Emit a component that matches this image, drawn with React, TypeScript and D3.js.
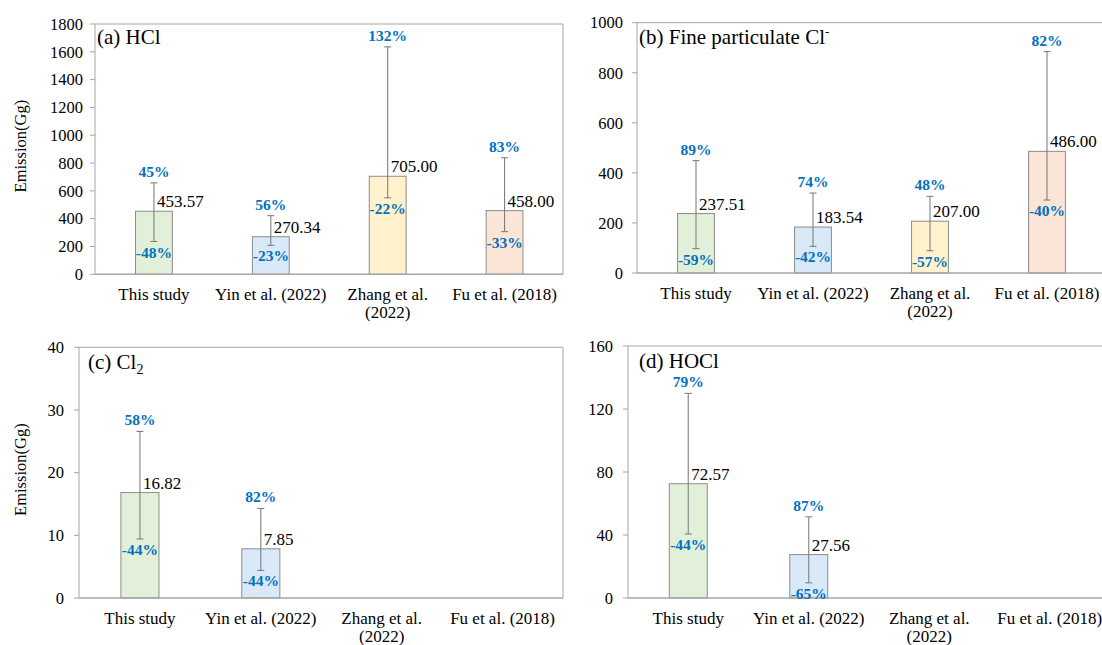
import React from "react";
import * as d3 from "d3";

const categories = ["This study", "Yin et al. (2022)", "Zhang et al.|(2022)", "Fu et al. (2018)"];

const hclValues = [453.57, 270.34, 705.0, 458.0];
const hclUp = [45, 56, 132, 83];
const hclDown = [-48, -23, -22, -33];

const clValues = [237.51, 183.54, 207.0, 486.0];
const clUp = [89, 74, 48, 82];
const clDown = [-59, -42, -57, -40];

const cl2Values = [16.82, 7.85, null, null];
const cl2Up = [58, 82, null, null];
const cl2Down = [-44, -44, null, null];

const hoclValues = [72.57, 27.56, null, null];
const hoclUp = [79, 87, null, null];
const hoclDown = [-44, -65, null, null];

const hclTicks = [0, 200, 400, 600, 800, 1000, 1200, 1400, 1600, 1800];
const clTicks = [0, 200, 400, 600, 800, 1000];
const cl2Ticks = [0, 10, 20, 30, 40];
const hoclTicks = [0, 40, 80, 120, 160];

const barFills = ["#E2F0D9", "#DAE9F7", "#FFF2CC", "#FBE5D6"];

type Panel = {
  key: string;
  values: (number | null)[];
  up: (number | null)[];
  down: (number | null)[];
  ticks: number[];
  axisX: number;
  bandL: number;
  bandR: number;
  frameR: number | null;
  yTop: number;
  yBot: number;
  tickGap: number;
  title: React.ReactNode;
  titleX: number;
  titleY: number;
  yTitle: boolean;
};

const FONT = "'Liberation Serif', 'Times New Roman', 'DejaVu Serif', serif";
const BLUE = "#0070C0";
const FRAME = "#A6A6A6";
const ERR = "#808080";

const panels: Panel[] = [
  {
    key: "a", values: hclValues, up: hclUp, down: hclDown, ticks: hclTicks,
    axisX: 95, bandL: 95.5, bandR: 563, frameR: 563, yTop: 24, yBot: 274.3, tickGap: 12,
    title: <tspan>(a) HCl</tspan>, titleX: 97, titleY: 44, yTitle: true,
  },
  {
    key: "b", values: clValues, up: clUp, down: clDown, ticks: clTicks,
    axisX: 637, bandL: 637.5, bandR: 1105.5, frameR: null, yTop: 22.7, yBot: 273, tickGap: 14,
    title: (
      <>
        <tspan>(b) Fine particulate Cl</tspan>
        <tspan dy={-8} fontSize={13}>-</tspan>
      </>
    ),
    titleX: 639, titleY: 44, yTitle: false,
  },
  {
    key: "c", values: cl2Values, up: cl2Up, down: cl2Down, ticks: cl2Ticks,
    axisX: 79, bandL: 79.5, bandR: 563, frameR: 563, yTop: 347.3, yBot: 598, tickGap: 15,
    title: (
      <>
        <tspan>(c) Cl</tspan>
        <tspan dy={5} fontSize={14}>2</tspan>
      </>
    ),
    titleX: 88, titleY: 369, yTitle: true,
  },
  {
    key: "d", values: hoclValues, up: hoclUp, down: hoclDown, ticks: hoclTicks,
    axisX: 628, bandL: 628, bandR: 1110, frameR: null, yTop: 346, yBot: 598, tickGap: 15,
    title: <tspan>(d) HOCl</tspan>, titleX: 639, titleY: 368, yTitle: false,
  },
];

function PanelView({ p }: { p: Panel }) {
  const x = d3.scaleBand<string>().domain(categories).range([p.bandL, p.bandR]).paddingInner(0).paddingOuter(0);
  const y = d3.scaleLinear().domain([p.ticks[0], p.ticks[p.ticks.length - 1]]).range([p.yBot, p.yTop]);
  const step = x.step();
  const barW = step * 0.315;
  const rightEdge = p.frameR ?? 1102;
  return (
    <g>
      <line x1={p.axisX} x2={rightEdge} y1={p.yTop} y2={p.yTop} stroke={FRAME} strokeWidth={1} />
      {p.frameR !== null && (
        <line x1={p.frameR} x2={p.frameR} y1={p.yTop} y2={p.yBot} stroke={FRAME} strokeWidth={1} />
      )}
      <line x1={p.axisX} x2={p.axisX} y1={p.yTop} y2={p.yBot} stroke={FRAME} strokeWidth={1} />
      {p.ticks.map((t) => (
        <g key={t}>
          <line x1={p.axisX - 5} x2={p.axisX} y1={y(t)} y2={y(t)} stroke={FRAME} strokeWidth={1} />
          <text x={p.axisX - p.tickGap} y={y(t)} dy="0.35em" textAnchor="end" fontSize={16.5} fontFamily={FONT} fill="#000">
            {t}
          </text>
        </g>
      ))}
      {categories.map((c, i) => {
        const v = p.values[i];
        if (v === null) return null;
        const cx = (x(c) as number) + step / 2;
        return (
          <rect key={c} x={cx - barW / 2} y={y(v)} width={barW} height={p.yBot - y(v)} fill={barFills[i]} stroke="#8C8C8C" strokeWidth={1} />
        );
      })}
      <line x1={p.axisX} x2={rightEdge} y1={p.yBot} y2={p.yBot} stroke={FRAME} strokeWidth={1.5} />
      {categories.map((c, i) => {
        const v = p.values[i];
        const u = p.up[i];
        const dn = p.down[i];
        if (v === null || u === null || dn === null) return null;
        const cx = (x(c) as number) + step / 2;
        const hi = v * (1 + u / 100);
        const lo = v * (1 + dn / 100);
        return (
          <g key={c}>
            <line x1={cx} x2={cx} y1={y(hi)} y2={y(lo)} stroke={ERR} strokeWidth={1.1} />
            <line x1={cx - 3.5} x2={cx + 3.5} y1={y(hi)} y2={y(hi)} stroke={ERR} strokeWidth={1.1} />
            <line x1={cx - 3.5} x2={cx + 3.5} y1={y(lo)} y2={y(lo)} stroke={ERR} strokeWidth={1.1} />
            <text x={cx + 3} y={y(v) - 4} fontSize={17} fontFamily={FONT} fill="#000">
              {v.toFixed(2)}
            </text>
            <text x={cx} y={y(hi) - 6} textAnchor="middle" fontSize={15.5} fontWeight="bold" fontFamily={FONT} fill={BLUE}>
              {u}%
            </text>
            <text x={cx} y={y(lo) + 16} textAnchor="middle" fontSize={15.5} fontWeight="bold" fontFamily={FONT} fill={BLUE}>
              {dn}%
            </text>
          </g>
        );
      })}
      {categories.map((c) => {
        const cx = (x(c) as number) + step / 2;
        const lines = c.split("|");
        return (
          <text key={c} textAnchor="middle" fontSize={17} fontFamily={FONT} fill="#000">
            {lines.map((ln, j) => (
              <tspan key={j} x={cx} y={p.yBot + 26 + j * 18}>
                {ln}
              </tspan>
            ))}
          </text>
        );
      })}
      <text x={p.titleX} y={p.titleY} fontSize={21} fontFamily={FONT} fill="#000">
        {p.title}
      </text>
      {p.yTitle && (
        <text
          transform={`translate(${20},${(p.yTop + p.yBot) / 2 - 3}) rotate(-90)`}
          textAnchor="middle"
          dy="0.35em"
          fontSize={16.5}
          fontFamily={FONT}
          fill="#000"
        >
          Emission(Gg)
        </text>
      )}
    </g>
  );
}

export default function App() {
  return (
    <svg
      width={1102}
      height={645}
      style={{ position: "absolute", left: 0, top: 0, background: "#fff" }}
    >
      <rect x={0} y={0} width={1102} height={645} fill="#fff" />
      {panels.map((p) => (
        <PanelView key={p.key} p={p} />
      ))}
    </svg>
  );
}
